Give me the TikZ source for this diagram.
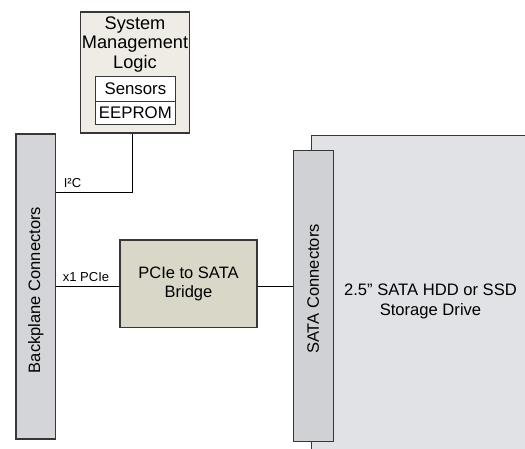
\documentclass[tikz,border=0pt]{standalone}
\usepackage{fontspec}
\setmainfont{Liberation Sans}
\definecolor{smfill}{RGB}{238,236,228}
\definecolor{brfill}{RGB}{217,215,199}
\definecolor{bpfill}{RGB}{212,213,217}
\definecolor{satafill}{RGB}{208,209,212}
\definecolor{drvfill}{RGB}{225,226,230}
\definecolor{edge}{RGB}{55,55,55}
\begin{document}
\begin{tikzpicture}[x=1pt,y=-1pt,
  box/.style={draw=edge,line width=1.1pt,inner sep=0pt,align=center,font=\fontsize{16.5}{19.5}\selectfont},
  wire/.style={draw=black,line width=0.9pt},
  lbl/.style={font=\fontsize{13}{15}\selectfont,inner sep=0pt}]
\useasboundingbox (0,0) rectangle (525,449);
\clip (0,0) rectangle (525,449);
% drive
\fill[drvfill] (311.7,135.7) rectangle (540,460);
\draw[edge,line width=1.1pt] (311.7,460) -- (311.7,135.7) -- (540,135.7);
\node[font=\fontsize{16.6}{20}\selectfont,align=center] (drvtext) at (430.5,301.5) {2.5” SATA HDD or SSD\\Storage Drive};
% system management
\node[box,fill=smfill,minimum width=108.6pt,minimum height=121pt] (sm) at (135,72.5) {};
\node[font=\fontsize{18.2}{19.2}\selectfont,align=center] (smtext) at (135,44.5) {System\\Management\\Logic};
\node[box,fill=white,minimum width=80.7pt,minimum height=25pt,font=\fontsize{16.8}{19}\selectfont] (sensors) at (135.4,89.2) {Sensors};
\node[box,fill=white,minimum width=80.7pt,minimum height=22.6pt,font=\fontsize{16.8}{19}\selectfont] (eeprom) at (135.4,113) {EEPROM};
% backplane
\node[box,fill=bpfill,minimum width=39.7pt,minimum height=305pt] (bp) at (35.85,286.5) {};
\node[rotate=90,font=\fontsize{16.5}{19}\selectfont] (bptext) at (35.85,290) {Backplane Connectors};
% bridge
\node[box,fill=brfill,minimum width=137pt,minimum height=87.7pt] (bridge) at (188.5,283.9) {PCIe to SATA\\Bridge};
% sata
\node[box,fill=satafill,minimum width=40pt,minimum height=290.7pt] (sata) at (313.3,296.3) {};
\node[rotate=90,font=\fontsize{16.5}{19}\selectfont] (satatext) at (313.3,289) {SATA Connectors};
% wires
\draw[wire] ([xshift=-3pt]sm.south) |- (bp.east |- 0,192.7);
\draw[wire] (bp.east |- 0,286.7) -- (bridge.west |- 0,286.7);
\draw[wire] (bridge.east |- 0,286.7) -- (sata.west |- 0,286.7);
% labels
\node[lbl] (i2c) at (72.5,183) {I²C};
\node[lbl] (x1) at (86,277.5) {x1 PCIe};
\end{tikzpicture}
\end{document}
